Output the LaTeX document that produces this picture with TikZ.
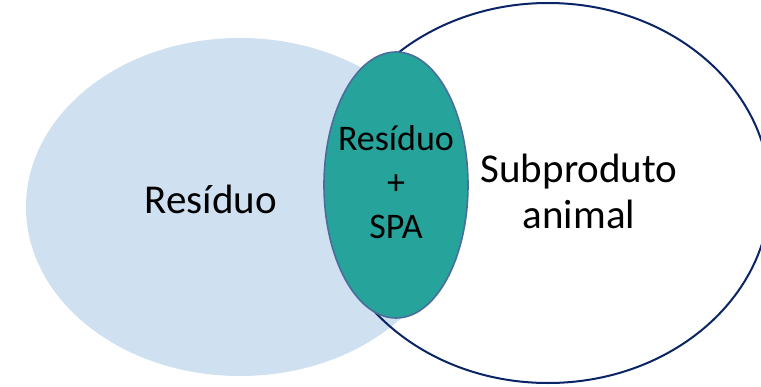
\documentclass[tikz,border=0pt]{standalone}
\usepackage{fontspec}
\setmainfont{Carlito}
\usetikzlibrary{shapes.geometric}
\definecolor{lblue}{HTML}{CFE0F1}
\definecolor{navy}{HTML}{0A2466}
\definecolor{teal2}{HTML}{26A39B}
\definecolor{tealedge}{HTML}{4A6D9C}
\tikzset{
  blob/.style={ellipse, inner sep=0pt, outer sep=0pt},
  lbl/.style={anchor=base, inner sep=0pt, font=\fontsize{41}{46}\selectfont},
  mlbl/.style={anchor=base, inner sep=0pt, font=\fontsize{36}{42}\selectfont}
}
\begin{document}
\begin{tikzpicture}[x=1pt,y=-1pt]
\useasboundingbox (0,0) rectangle (761,386);
\fill[white] (0,0) rectangle (761,386);
\node[blob, fill=lblue, minimum width=428pt, minimum height=338pt] (res) at (240,207) {};
\node[blob, draw=navy, line width=2pt, minimum width=444pt, minimum height=380pt] (sub) at (548,193) {};
\node[blob, fill=teal2, draw=tealedge, line width=1.6pt, minimum width=144pt, minimum height=266pt] (both) at (396,185) {};
\node[lbl] (t1) at (211,213) {Resíduo};
\node[mlbl] (t2) at (396,150) {Resíduo};
\node[mlbl] (t3) at (396,194) {+};
\node[mlbl] (t4) at (396,238) {SPA};
\node[lbl] (t5) at (579,182) {Subproduto};
\node[lbl] (t6) at (579,228) {animal};
\end{tikzpicture}
\end{document}
